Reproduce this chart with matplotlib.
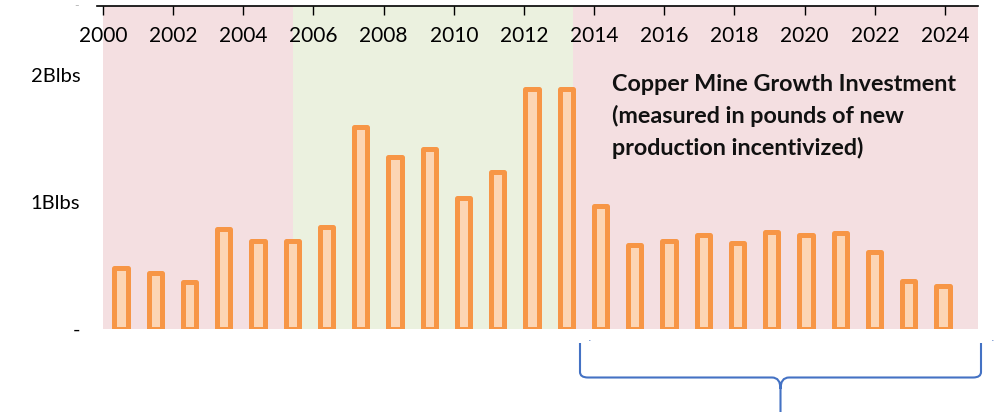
import matplotlib
matplotlib.use("Agg")
import matplotlib.pyplot as plt
from matplotlib.path import Path
from matplotlib.patches import PathPatch

# ---- data ----
years = list(range(2000, 2025))
values_blbs = [0.48, 0.44, 0.37, 0.785, 0.695, 0.69, 0.805, 1.59, 1.355, 1.42,
               1.03, 1.24, 1.89, 1.89, 0.97, 0.66, 0.69, 0.74, 0.68, 0.76,
               0.74, 0.755, 0.61, 0.38, 0.34]
year_ticks = list(range(2000, 2025, 2))
year_tick_labels = [str(y) for y in year_ticks]
y_ticks = [0, 1, 2]
y_tick_labels = ["-", "1Blbs", "2Blbs"]
# shaded periods (start, end, colour)
periods = [(2000, 2005.42, "#F4DFE1"), (2005.42, 2013.40, "#EBF1DF"), (2013.40, 2024.97, "#F4DFE1")]
annotation = "Copper Mine Growth Investment\n(measured in pounds of new\nproduction incentivized)"

W, H = 999, 412
fig = plt.figure(figsize=(W / 100, H / 100), dpi=100)
FONT = "Lato"

def fx(px):
    return px / W

def fy(py):
    return 1 - py / H

ax_left, ax_right, ax_top, ax_bottom = 97, 978, 6, 329
ax = fig.add_axes([fx(ax_left), fy(ax_bottom), (ax_right - ax_left) / W, (ax_bottom - ax_top) / H])
ax2 = ax.twiny()

# year axis (top) with shading
yr0_px, per_yr = 103.0, 35.083
ax.set_xlim(2000 + (ax_left - yr0_px) / per_yr, 2000 + (ax_right - yr0_px) / per_yr)
ax.set_ylim(0, (ax_bottom - ax_top) / 127.0)
for a, b, c in periods:
    ax.axvspan(a, b, color=c, lw=0, zorder=0)

ax.xaxis.tick_top()
ax.set_xticks(year_ticks)
ax.set_xticklabels(year_tick_labels, fontsize=15, family=FONT)
ax.tick_params(axis="x", top=True, bottom=False, labeltop=True, labelbottom=False,
               direction="in", length=6.5, width=1, color="black", pad=-29)
ax.set_yticks(y_ticks)
ax.set_yticklabels(y_tick_labels, fontsize=14.5, family=FONT)
ax.tick_params(axis="y", length=0, pad=12)
for s in ["left", "right", "bottom"]:
    ax.spines[s].set_visible(False)
ax.spines["top"].set_visible(True)
ax.spines["top"].set_linewidth(1.2)
ax.set_facecolor("none")

# bar axis
bar_px0, bar_step = 121.0, 34.25
ax2.set_xlim((ax_left - bar_px0) / bar_step, (ax_right - bar_px0) / bar_step)
idx = list(range(len(years)))
ax2.bar(idx, values_blbs, width=0.38, color="#FCD5B4", edgecolor="#F79646",
        linewidth=3.6, joinstyle="round", zorder=3)
ax2.set_xticks([])
ax2.tick_params(axis="x", top=False, bottom=False, labeltop=False, labelbottom=False)
for s in ax2.spines.values():
    s.set_visible(False)
ax2.set_facecolor("none")

# annotation text
fig.text(fx(612), fy(74), annotation, fontsize=16.8, fontweight="bold", family=FONT,
         va="top", ha="left", linespacing=1.56, color="#111111")

# faint dash top-left
fig.text(fx(77), fy(6), "-", fontsize=9, color="#BBBBBB", ha="center", va="center", family=FONT)

# brace below the 2014-2024 period
def P(x, y):
    return (fx(x), fy(y))

verts = [P(580, 343), P(580, 372), P(580, 377.5), P(588, 377.5),
         P(772, 377.5), P(780.5, 377.5), P(780.5, 389), P(780.5, 412),
         P(780.5, 389), P(780.5, 377.5), P(789, 377.5),
         P(973, 377.5), P(981, 377.5), P(981, 372), P(981, 343)]
codes = [Path.MOVETO, Path.LINETO, Path.CURVE3, Path.CURVE3,
         Path.LINETO, Path.CURVE3, Path.CURVE3, Path.LINETO,
         Path.MOVETO, Path.CURVE3, Path.CURVE3,
         Path.LINETO, Path.CURVE3, Path.CURVE3, Path.LINETO]
fig.patches.append(PathPatch(Path(verts, codes), transform=fig.transFigure,
                             facecolor="none", edgecolor="#4472C4", lw=1.5))
fig.text(fx(589.5), fy(341.5), "·", fontsize=8, color="#4472C4", ha="center", va="center")
fig.text(fx(993), fy(341.5), "·", fontsize=8, color="#4472C4", ha="center", va="center")

fig.savefig("out.png", dpi=100)
